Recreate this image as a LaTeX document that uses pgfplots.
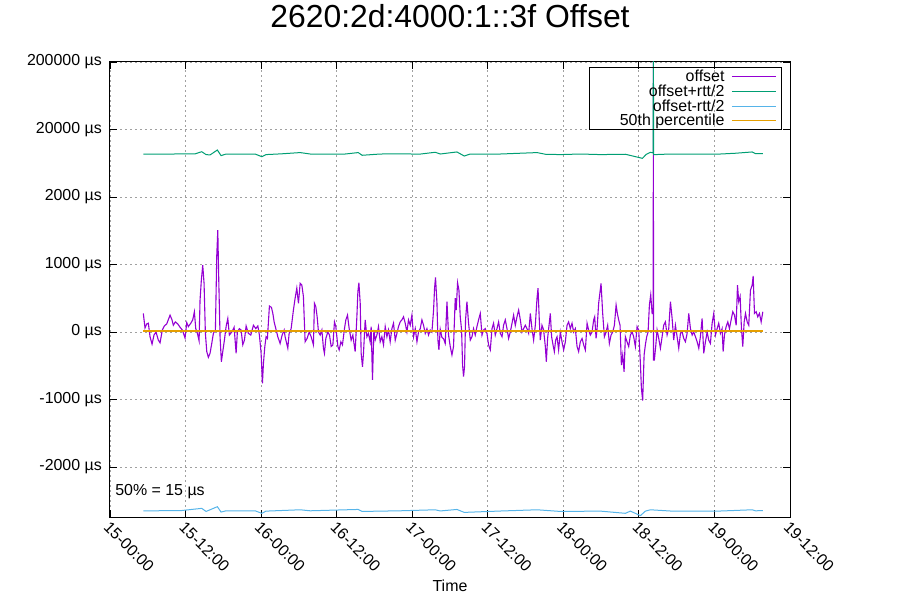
\documentclass[border=0pt]{standalone}
\usepackage{pgfplots}
\pgfplotsset{compat=1.18}
\usepackage{fontspec}
\setmainfont{Liberation Sans}
\definecolor{cOff}{HTML}{9400D3}
\definecolor{cPlus}{HTML}{009E73}
\definecolor{cMinus}{HTML}{56B4E9}
\definecolor{cPct}{HTML}{E69F00}
\definecolor{gridc}{RGB}{160,160,160}
\begin{document}
\begin{tikzpicture}
\path[use as bounding box] (-110bp,-83bp) rectangle (790bp,517bp);
\begin{axis}[
  at={(0bp,0bp)}, anchor=south west,
  scale only axis, width=680bp, height=455bp,
  y coord trafo/.code={%
    \begingroup
    \pgfkeys{/pgf/fpu=true,/pgf/fpu/output format=fixed}%
    \pgfmathparse{abs(#1)<2000.5 ? (#1)/1000 : ((#1)>0 ? 1 : -1)*(2+ln(max(abs(#1),1)/2000)/2.302585093)}%
    \xdef\symlogresult{\pgfmathresult}%
    \endgroup
    \let\pgfmathresult\symlogresult
  },
  xmin=0, xmax=108, ymin=-11000, ymax=200000,
  xtick={0,12,24,36,48,60,72,84,96,108},
  xticklabels={15-00:00,15-12:00,16-00:00,16-12:00,17-00:00,17-12:00,18-00:00,18-12:00,19-00:00,19-12:00},
  ytick={-2000,-1000,0,1000,2000,20000,200000},
  yticklabels={-2000 µs,-1000 µs,0 µs,1000 µs,2000 µs,20000 µs,200000 µs},
  tick label style={font=\fontsize{16}{18}\selectfont, text=black},
  xticklabel style={rotate=-45, anchor=north west, inner sep=1bp, xshift=2bp, yshift=-1bp},
  yticklabel style={inner sep=2bp, xshift=-6bp},
  major tick length=7bp, tick style={black, line width=0.8bp},
  minor tick num=0,
  axis line style={black, line width=1bp},
  grid=major, grid style={gridc, line width=0.8bp, dash pattern=on 2bp off 3bp},
  title={2620:2d:4000:1::3f Offset},
  title style={font=\fontsize{32}{36}\selectfont, at={(0.5,1)}, anchor=base, yshift=29bp},
  xlabel={Time},
  xlabel style={font=\fontsize{16}{18}\selectfont, at={(0.5,0)}, anchor=base, yshift=-74bp},
  legend plot pos=right,
  legend cell align=right,
  legend style={at={(0.988,0.989)}, anchor=north east, draw=black, line width=1bp, fill=none,
    font=\fontsize{16}{18}\selectfont, inner xsep=5bp, inner ysep=1.5bp, row sep=0bp, column sep=6bp,
    nodes={inner sep=0.9bp}},
  legend image code/.code={\draw[#1, line width=1bp] (0bp,0bp) -- (44bp,0bp);},
]
\addplot[cOff, line width=1.1bp] table[x=h, y=v] {
h v
5.29 277
5.56 60
5.83 120
6.09 130
6.36 -70
6.68 -180
6.99 -45
7.31 0
7.68 -120
7.95 -160
8.31 30
8.63 90
9.01 120
9.54 250
9.85 180
10.06 100
10.38 150
10.76 120
11.13 70
11.49 30
11.92 -90
12.19 140
12.45 80
12.83 130
13.14 180
13.40 300
13.62 50
13.88 -20
14.15 -130
14.30 470
14.51 770
14.73 990
14.94 720
15.15 -20
15.37 -290
15.62 -375
15.89 -315
16.16 -170
16.42 -20
16.74 30
16.96 1140
17.12 1510
17.28 745
17.48 -70
17.69 -440
17.91 -290
18.17 -120
18.44 80
18.71 200
18.96 -45
19.34 0
19.71 70
20.03 -315
20.23 0
20.55 50
20.82 30
21.09 -190
21.35 -120
21.62 90
21.98 -20
22.36 -45
22.78 100
23.16 50
23.48 90
23.73 -45
24.00 -315
24.21 -760
24.37 -465
24.59 -215
24.79 -70
25.00 -95
25.32 385
25.64 365
25.86 277
26.07 150
26.34 50
26.65 -70
27.02 -170
27.34 -45
27.66 30
27.81 -70
28.24 -240
28.45 -20
28.77 50
29.13 325
29.40 500
29.67 650
29.93 425
30.20 720
30.47 695
30.72 525
30.99 -145
31.31 -95
31.63 0
31.95 -70
32.31 -190
32.47 425
32.69 375
32.90 225
33.11 0
33.38 -45
33.65 30
33.90 -240
34.06 -315
34.28 -95
34.60 0
34.86 -45
35.13 -215
35.40 -190
35.65 150
35.87 80
36.19 -215
36.40 -265
36.67 -145
36.92 -190
37.24 50
37.46 180
37.72 250
37.99 50
38.30 -120
38.57 -45
38.78 -190
38.94 -290
39.21 225
39.37 600
39.53 730
39.74 425
39.89 -315
40.10 -515
40.26 -315
40.53 180
40.80 -70
41.05 -20
41.32 -145
41.48 80
41.69 -710
41.91 30
42.12 -120
42.39 -45
42.64 80
42.91 -145
43.18 -70
43.44 -190
43.71 80
43.98 -70
44.23 30
44.50 -145
44.77 50
45.03 130
45.30 -120
45.57 -20
45.82 80
46.09 150
46.36 180
46.62 225
46.89 130
47.16 0
47.41 180
47.68 100
47.95 250
48.21 -70
48.48 50
48.75 -145
49.00 0
49.27 50
49.54 180
49.80 100
50.07 -20
50.34 50
50.59 -45
50.86 30
51.13 0
51.39 325
51.55 650
51.70 810
51.93 425
52.08 -120
52.24 -265
52.45 40
52.72 -80
52.98 -100
53.24 -170
53.52 450
53.77 -45
54.04 -215
54.31 -340
54.56 -215
54.83 500
54.99 325
55.20 730
55.42 620
55.63 225
55.84 30
56.00 -490
56.15 -660
56.31 -515
56.47 180
56.69 450
56.95 130
57.22 -120
57.49 -70
57.74 50
58.01 -45
58.28 80
58.54 180
58.81 275
59.08 -45
59.33 30
59.60 50
59.87 -20
60.13 -190
60.40 -265
60.67 50
60.92 130
61.19 -45
61.46 50
61.72 150
61.99 -20
62.26 -70
62.51 100
62.78 180
63.05 50
63.31 -95
63.58 0
63.85 130
64.10 250
64.37 100
64.64 225
64.90 325
65.17 180
65.44 0
65.69 50
65.96 100
66.23 50
66.49 -20
66.76 275
67.02 50
67.28 -120
67.55 100
67.82 500
67.98 650
68.18 180
68.34 -120
68.61 100
68.87 30
69.14 -215
69.30 -440
69.50 -95
69.73 100
69.93 275
70.14 -70
70.36 -190
70.57 -290
70.78 -120
71.00 -70
71.25 -265
71.52 0
71.79 -145
72.05 -265
72.32 -145
72.59 100
72.84 150
73.11 50
73.38 130
73.64 0
73.91 50
74.18 -215
74.43 -290
74.70 -145
74.97 -95
75.23 -190
75.50 -265
75.77 130
76.02 30
76.29 -45
76.56 0
76.82 180
76.98 225
77.20 -95
77.36 50
77.61 425
77.99 720
78.25 275
78.52 -70
78.79 0
79.04 100
79.31 -170
79.58 -45
79.84 0
80.11 100
80.38 400
80.58 275
80.79 180
81.01 100
81.22 -490
81.43 -340
81.65 -590
81.85 -70
82.12 -145
82.38 -215
82.65 -45
82.92 0
83.17 -70
83.44 -215
83.71 80
83.97 30
84.24 -465
84.40 -835
84.60 -1015
84.83 -340
85.03 -190
85.24 -70
85.46 0
85.67 400
85.88 550
86.10 275
86.28 275
86.30 1000000
86.32 -415
86.46 -415
86.67 -215
86.89 30
87.15 -95
87.42 -240
87.69 -70
87.94 100
88.21 150
88.48 -45
88.74 50
89.01 450
89.28 200
89.53 -120
89.80 100
90.07 -70
90.33 -240
90.60 -20
90.87 0
91.12 -95
91.39 -145
91.66 -20
91.92 275
92.19 50
92.46 -45
92.71 0
92.98 -70
93.25 -145
93.51 -240
93.77 -70
94.04 200
94.30 -315
94.57 -145
94.84 0
95.09 -120
95.36 -170
95.63 130
95.89 275
96.16 -45
96.43 50
96.68 130
96.95 -20
97.22 50
97.38 -290
97.59 -45
97.86 80
98.12 150
98.38 50
98.65 180
98.91 300
99.18 250
99.45 100
99.66 695
99.86 450
100.08 525
100.29 50
100.50 -215
100.72 150
100.93 275
101.20 150
101.45 100
101.72 620
101.99 695
102.15 830
102.36 275
102.63 300
102.88 225
103.15 275
103.42 150
103.68 300
};
\addlegendentry{offset}
\addplot[cPlus, line width=1bp] table[x=h, y=v] {
h v
5.29 8670
7.95 8600
9.50 8650
11.13 8700
13.51 8700
14.57 9380
15.26 8500
15.89 8400
17.05 9940
17.64 8200
18.44 8670
20.66 8670
23.05 8670
24.11 7910
24.79 8500
27.02 8700
30.20 9100
31.79 8670
34.97 8600
37.35 8670
39.42 9100
40.05 8300
42.91 8670
46.09 8700
49.27 8650
51.66 9200
52.45 8670
55.10 9300
56.26 8100
57.22 8670
61.99 8670
67.82 9100
69.14 8600
71.52 8500
74.70 8670
77.88 8500
81.85 8600
84.56 7480
85.19 8600
85.83 9200
86.26 9000
86.30 1000000
86.34 8500
86.62 8500
89.01 8670
93.77 8600
96.95 8670
99.34 8900
101.99 9300
102.52 8800
103.68 8800
};
\addlegendentry{offset+rtt/2}
\addplot[cMinus, line width=1bp] table[x=h, y=v] {
h v
5.29 -8900
11.13 -8870
14.57 -8190
15.26 -9100
17.05 -7740
17.64 -9300
18.44 -8900
23.05 -8900
24.11 -9710
24.79 -9000
30.20 -8600
31.79 -8900
39.42 -8500
40.05 -9100
46.09 -8900
51.66 -8600
52.45 -8950
55.10 -8500
56.26 -9400
61.99 -8970
67.82 -8600
71.52 -9100
77.88 -9000
81.85 -9700
82.65 -9000
84.24 -10500
85.03 -9000
85.83 -8600
89.01 -8970
96.95 -8970
101.99 -8600
102.52 -8900
103.68 -8850
};
\addlegendentry{offset-rtt/2}
\addplot[cPct, line width=1.6bp] table[x=h, y=v] {
h v
5.29 15
103.68 15
};
\addlegendentry{\hspace*{24bp}50th percentile}
\node[anchor=west, font=\fontsize{16}{18}\selectfont, inner sep=0pt] at (rel axis cs:0.0075,0.055) {50\% = 15 µs};
\end{axis}
\end{tikzpicture}
\end{document}
